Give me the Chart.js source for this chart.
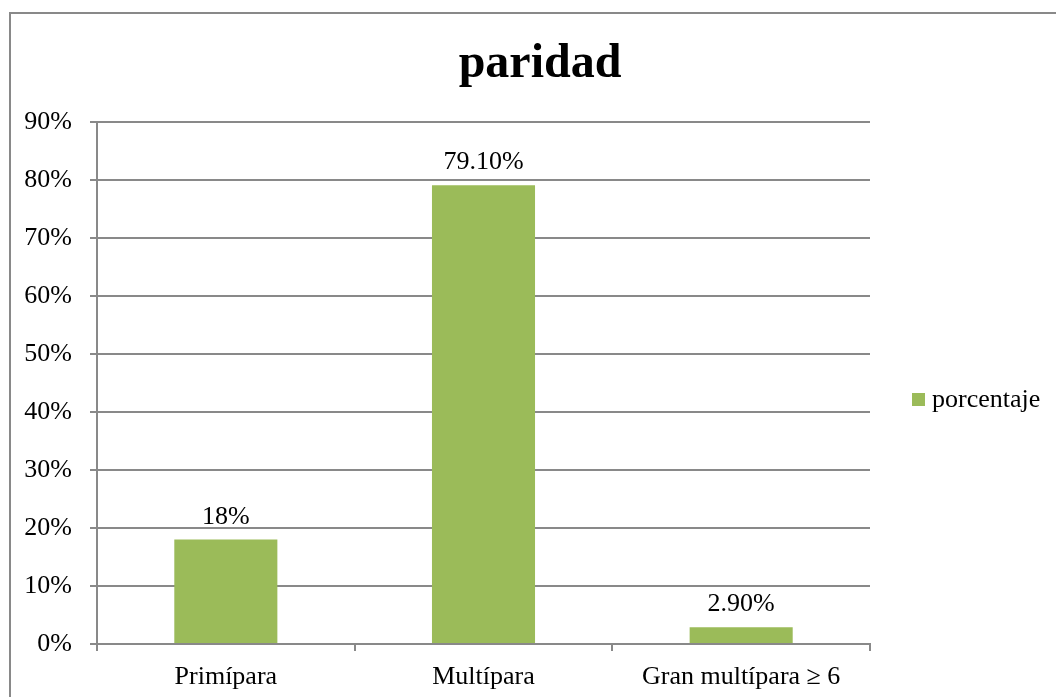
<!DOCTYPE html>
<html>
<head>
<meta charset="utf-8">
<title>paridad</title>
<script src="https://cdn.jsdelivr.net/npm/chart.js@4/dist/chart.umd.min.js"></script>
<style>
  html, body { margin: 0; padding: 0; background: #fff; overflow: hidden; }
  #wrap { position: relative; width: 1056px; height: 697px; }
</style>
</head>
<body>
<div id="wrap"><canvas id="chart" width="1056" height="697"></canvas></div>
<script>
const categories = ["Primípara", "Multípara", "Gran multípara \u2265 6"];
const porcentaje = [18, 79.1, 2.9];
const valueLabels = ["18%", "79.10%", "2.90%"];
const seriesName = "porcentaje";
const yTicks = [0, 10, 20, 30, 40, 50, 60, 70, 80, 90];

const SERIF = "'Liberation Serif', 'Times New Roman', serif";
const BAR_COLOR = "#9bbb59";
const LINE_COLOR = "#898989";

// frame, title, value labels and legend drawn by hand, like the office chart
const decorations = {
    id: "decorations",
    beforeDraw(chart) {
        const ctx = chart.ctx;
        ctx.save();
        ctx.strokeStyle = LINE_COLOR;
        ctx.lineWidth = 2;
        ctx.strokeRect(10, 13, 1200, 900);
        ctx.restore();
    },
    afterDatasetsDraw(chart) {
        const ctx = chart.ctx;
        const meta = chart.getDatasetMeta(0);
        ctx.save();
        ctx.fillStyle = "#000";

        ctx.font = "bold 48px " + SERIF;
        ctx.textAlign = "center";
        ctx.textBaseline = "alphabetic";
        ctx.fillText("paridad", 540, 77);

        ctx.font = "26px " + SERIF;
        meta.data.forEach((bar, i) => {
            ctx.fillText(valueLabels[i], bar.x, bar.y - 16);
        });

        const area = chart.chartArea;
        const midY = (area.top + area.bottom) / 2 + 17;
        ctx.fillStyle = chart.data.datasets[0].backgroundColor;
        ctx.fillRect(912, midY - 7, 13, 13);
        ctx.fillStyle = "#000";
        ctx.textAlign = "left";
        ctx.textBaseline = "middle";
        ctx.fillText(chart.data.datasets[0].label, 932, midY);
        ctx.restore();
    },
};

new Chart(document.getElementById("chart"), {
    type: "bar",
    data: {
        labels: categories,
        datasets: [{
            label: seriesName,
            data: porcentaje,
            backgroundColor: BAR_COLOR,
            borderWidth: 0,
            categoryPercentage: 1,
            barPercentage: 0.4,
        }],
    },
    options: {
        responsive: false,
        animation: false,
        devicePixelRatio: 1,
        layout: { padding: { top: 122, right: 186, bottom: 0, left: 0 } },
        plugins: {
            legend: { display: false },
            title: { display: false },
            tooltip: { enabled: false },
        },
        scales: {
            x: {
                offset: true,
                grid: {
                    offset: true,
                    drawOnChartArea: false,
                    drawTicks: true,
                    tickLength: 7,
                    color: LINE_COLOR,
                    lineWidth: 2,
                },
                border: { color: LINE_COLOR, width: 2 },
                ticks: {
                    color: "#000",
                    padding: 11,
                    font: { family: SERIF, size: 26 },
                    maxRotation: 0,
                },
                afterFit(scale) { scale.height = 53; },
            },
            y: {
                min: 0,
                max: 90,
                afterBuildTicks(scale) {
                    scale.ticks = yTicks.map((v) => ({ value: v }));
                },
                grid: {
                    color: LINE_COLOR,
                    lineWidth: 2,
                    drawTicks: true,
                    tickLength: 7,
                },
                border: { color: LINE_COLOR, width: 2 },
                ticks: {
                    color: "#000",
                    padding: 18,
                    font: { family: SERIF, size: 26 },
                    callback: (v) => v + "%",
                },
                afterFit(scale) { scale.width = 97; },
            },
        },
    },
    plugins: [decorations],
});
</script>
</body>
</html>
